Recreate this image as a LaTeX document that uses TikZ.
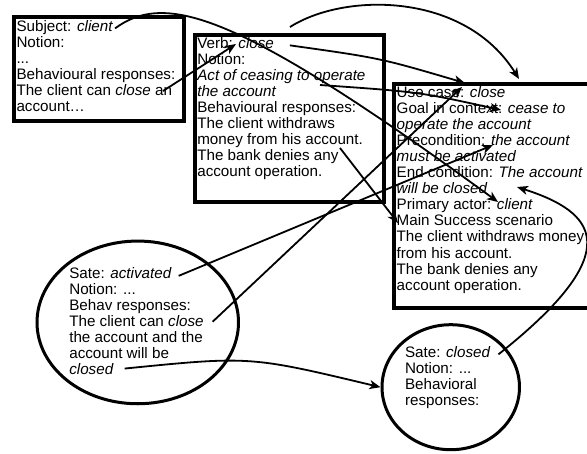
\documentclass[tikz,border=0pt]{standalone}
\usepackage{fontspec}
\setmainfont{Liberation Sans}
\usetikzlibrary{arrows.meta,shapes.geometric}
\begin{document}
\begin{tikzpicture}[x=1pt,y=-1pt,
  txt/.style={anchor=base west,inner sep=0pt,outer sep=0pt,font=\fontsize{15.2}{16}\selectfont},
  box/.style={draw,rectangle,line width=4pt,inner sep=0pt},
  oval/.style={draw,ellipse,line width=3pt,inner sep=0pt},
  conn/.style={line width=1.8pt,-{Stealth[length=11pt,width=9pt,inset=3pt]}},
]
\useasboundingbox (0,0) rectangle (587,453);
\clip (0,0) rectangle (587,453);
% frames
\node[box,minimum width=170.3pt,minimum height=103.5pt] (subjbox) at (98.85,68.75) {};
\node[box,minimum width=189.3pt,minimum height=167.3pt] (verbbox) at (289.35,118.35) {};
\node[box,minimum width=206pt,minimum height=224.3pt] (ucbox) at (497,196.15) {};
\node[oval,minimum width=201.5pt,minimum height=162.7pt] (state1) at (137.75,322.4) {};
\node[oval,minimum width=137.5pt,minimum height=125pt] (state2) at (450.75,387.2) {};
% subject box
\node[txt] (s1) at (16.5,31) {Subject: \textit{client}};
\node[txt] (s2) at (16.5,47.15) {Notion:};
\node[txt] (s3) at (16.5,63.3) {...};
\node[txt] (s4) at (16.5,79.45) {Behavioural responses:};
\node[txt] (s5) at (16.5,95.6) {The client can \textit{close} an};
\node[txt] (s6) at (16.5,111.75) {account…};
% verb box
\node[txt] (v1) at (197.3,48) {Verb: \textit{close}};
\node[txt] (v2) at (197.3,64) {Notion:};
\node[txt] (v3) at (197.3,80) {\textit{Act of ceasing to operate}};
\node[txt] (v4) at (197.3,96) {\textit{the account}};
\node[txt] (v5) at (197.3,112) {Behavioural responses:};
\node[txt] (v6) at (197.3,128) {The client withdraws};
\node[txt] (v7) at (197.3,144) {money from his account.};
\node[txt] (v8) at (197.3,160) {The bank denies any};
\node[txt] (v9) at (197.3,176) {account operation.};
% use case box
\node[txt] (u1) at (396.7,97) {Use case: \textit{close}};
\node[txt] (u2) at (396.7,113.1) {Goal in context: \textit{cease to}};
\node[txt] (u3) at (396.7,129.2) {\textit{operate the account}};
\node[txt] (u4) at (396.7,145.3) {Precondition: \textit{the account}};
\node[txt] (u5) at (396.7,161.4) {\textit{must be activated}};
\node[txt] (u6) at (396.7,177.5) {End condition: \textit{The account}};
\node[txt] (u7) at (396.7,193.6) {\textit{will be closed}};
\node[txt] (u8) at (396.7,209.7) {Primary actor: \textit{client}};
\node[txt] (u9) at (396.7,225.8) {Main Success scenario};
\node[txt] (u10) at (396.7,241.9) {The client withdraws money};
\node[txt] (u11) at (396.7,258) {from his account.};
\node[txt] (u12) at (396.7,274.1) {The bank denies any};
\node[txt] (u13) at (396.7,290.2) {account operation.};
% state activated
\node[txt] (p1) at (69.3,278.5) {Sate: \textit{activated}};
\node[txt] (p2) at (69.3,294.45) {Notion: ...};
\node[txt] (p3) at (69.3,310.4) {Behav responses:};
\node[txt] (p4) at (69.3,326.35) {The client can \textit{close}};
\node[txt] (p5) at (69.3,342.3) {the account and the};
\node[txt] (p6) at (69.3,358.25) {account will be};
\node[txt] (p7) at (69.3,374.2) {\textit{closed}};
% state closed
\node[txt] (q1) at (405,357) {Sate: \textit{closed}};
\node[txt] (q2) at (405,373) {Notion: ...};
\node[txt] (q3) at (405,389) {Behavioral};
\node[txt] (q4) at (405,405) {responses:};
% connector end points
\coordinate (tipA) at (498,202);
\coordinate (startB) at (163,91);
\coordinate (tipB) at (236,44);
\coordinate (startC) at (290,27);
\coordinate (tipC) at (519,79);
\coordinate (tipD) at (465,83);
\coordinate (startE) at (320,85);
\coordinate (tipE) at (501,110);
\coordinate (startF) at (340,148);
\coordinate (tipF) at (398,223);
\coordinate (tipAct) at (493,145);
\coordinate (tipClose) at (462,87);
\coordinate (tipH) at (517,187);
% connectors
\draw[conn] ([xshift=2pt]s1.mid east) .. controls (165,-8) and (235,10) .. (tipA);
\draw[conn] (startB) -- (tipB);
\draw[conn] (startC) .. controls (345,-8) and (465,-8) .. (tipC);
\draw[conn] ([xshift=16pt]v1.mid east) .. controls (380,58) .. (tipD);
\draw[conn] (startE) .. controls (420,92) .. (tipE);
\draw[conn] (startF) -- (tipF);
\draw[conn] ([xshift=7pt]p1.mid east) -- (tipAct);
\draw[conn] ([xshift=9pt,yshift=2pt]p4.mid east) -- (tipClose);
\draw[conn] ([xshift=11pt,yshift=3pt]p7.mid east) .. controls (250,356) .. (state2.west);
\draw[conn] ([xshift=8pt]q1.mid east) .. controls (630,250) and (595,212) .. (tipH);
\end{tikzpicture}
\end{document}
